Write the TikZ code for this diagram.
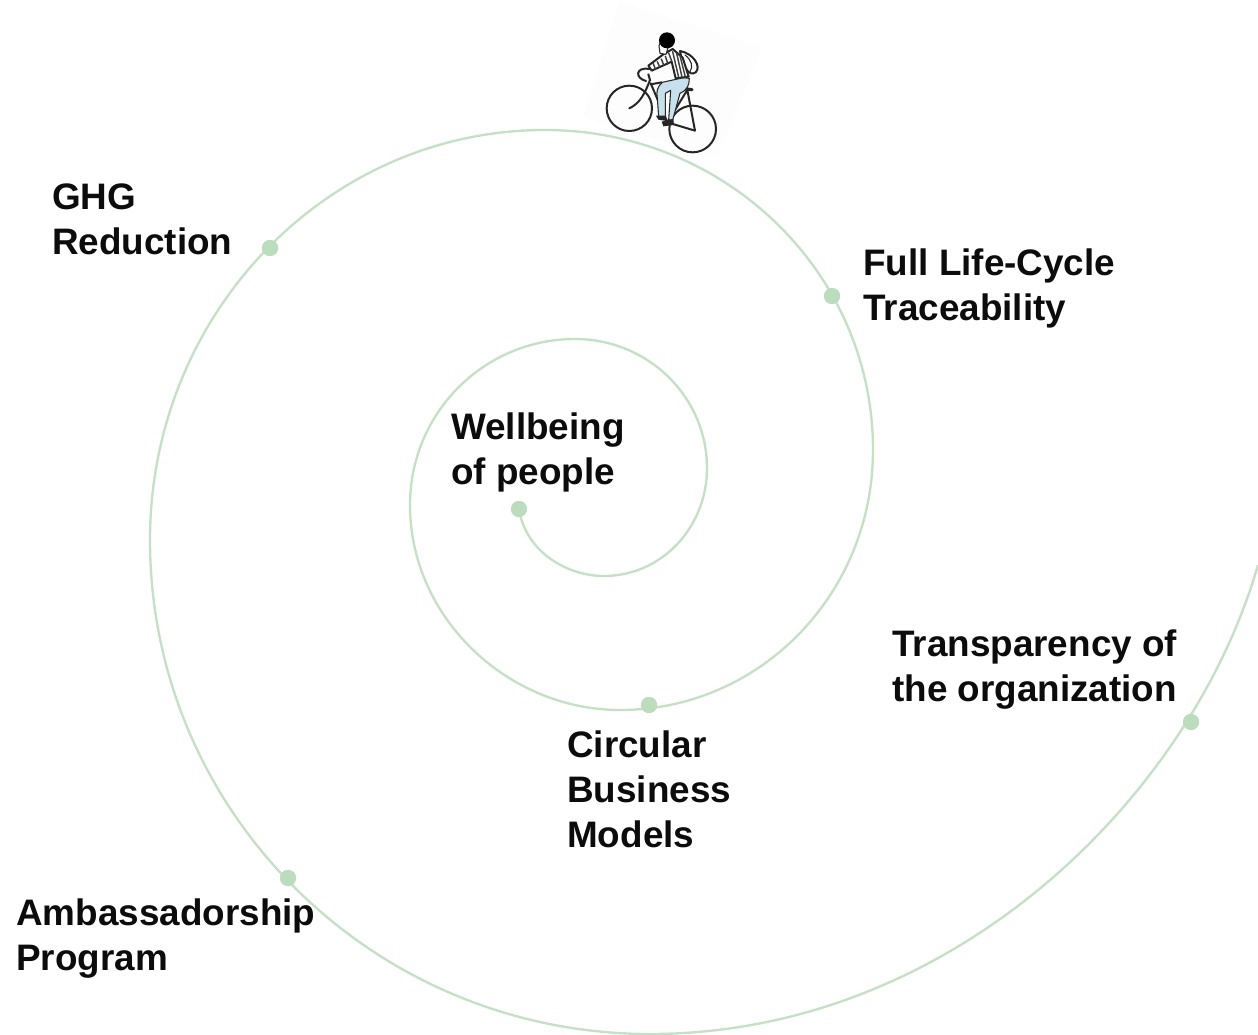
\documentclass[tikz,border=0pt]{standalone}
\usepackage{fontspec}
\setmainfont{Liberation Sans}
\definecolor{spiral}{HTML}{C6E0C6}
\definecolor{dotc}{HTML}{BBDCBD}
\definecolor{txt}{HTML}{0C0C0C}
\definecolor{jeans}{HTML}{C6E0EC}
\definecolor{ground}{HTML}{FDFDFD}
\tikzset{
  lbl/.style={anchor=north west,inner sep=0pt,align=left,text=txt,font=\fontsize{27.65}{33.75}\selectfont\bfseries},
  dotn/.style={circle,fill=dotc,inner sep=0pt,minimum size=12pt},
  spiralline/.style={draw=spiral,line width=1.75pt},
  ink/.style={draw=black!85,line width=1.5pt,line cap=round,line join=round},
  thin ink/.style={draw=black!85,line width=0.8pt,line cap=round,line join=round},
  stripe/.style={draw=black!75,line width=1.1pt,line cap=round}
}
\begin{document}
\begin{tikzpicture}[x=0.75pt,y=-0.75pt]
\useasboundingbox (0,0) rectangle (1258,1035);
\fill[white] (0,0) rectangle (1258,1035);
% image ground of the cyclist
\fill[ground] (620,2) -- (762,48) -- (717,157) -- (583,117) -- cycle;
% cyclist, drawn in crop coordinates (1/3 pixel)
\begin{scope}[shift={(630,25)},x=0.25pt,y=-0.25pt]
\draw[ink] (-2,250) circle (68);
\draw[ink] (188,312) circle (70);
% frame
\draw[ink] (-2,250) .. controls (30,235) and (45,205) .. (60,165) -- (55,148);
\draw[ink] (62,175) -- (112,292) -- (172,195) -- (195,317) -- (112,292);
\draw[ink] (62,178) -- (95,172);
\draw[ink,line width=2.4pt] (148,190) -- (186,194);
\draw[ink] (48,168) .. controls (15,160) and (15,125) .. (58,132);
% legs
\draw[thin ink,fill=jeans] (178,160) -- (160,158) -- (97,172) .. controls (82,185) and (78,200) .. (82,220) -- (86,275) -- (106,275) -- (106,205) -- (122,196) -- (116,285) -- (128,285) -- (150,205) .. controls (172,195) and (178,180) .. (178,160) -- cycle;
% feet
\fill[black!85] (78,272) -- (108,272) -- (110,288) -- (85,284) -- cycle;
\fill[black!85] (95,290) -- (130,282) -- (132,300) -- (100,304) -- cycle;
% backpack
\draw[ink,fill=white] (150,78) .. controls (190,85) and (215,125) .. (197,142) .. controls (178,155) and (160,130) .. (150,78) -- cycle;
\draw[thin ink] (165,90) .. controls (185,105) and (190,125) .. (180,140);
% torso and arm
\draw[ink,fill=white] (100,88) -- (128,72) -- (158,98) -- (176,155) -- (137,160) -- (125,110) -- (65,137) -- (55,122) -- cycle;
\draw[stripe] (70,116) -- (76,132) (82,110) -- (89,126) (94,102) -- (101,120) (106,94) -- (113,115) (116,84) -- (125,108)
  (128,80) -- (146,157) (140,85) -- (156,156) (150,92) -- (166,156);
% head
\draw[thin ink,fill=white] (92,50) -- (87,62) -- (90,85) -- (108,88) -- (115,65) -- cycle;
\fill[black] (111,46) circle (24);
\end{scope}
% dots
\node[dotn] (d1) at (519,509) {};
\node[dotn] (d2) at (649,705) {};
\node[dotn] (d3) at (832,296) {};
\node[dotn] (d4) at (270,248) {};
\node[dotn] (d5) at (288,878) {};
\node[dotn] (d6) at (1191,722) {};
% spiral
\draw[spiralline] (d1.center)
  .. controls (525,550) and (565,576) .. (604,576)
  .. controls (661,576) and (707,528) .. (707,468)
  .. controls (707,397) and (648,339) .. (575,339)
  .. controls (484,339) and (410,413) .. (410,505)
  .. controls (410,618) and (508,710) .. (620,710)
  .. controls (760,710) and (873,594) .. (873,450)
  .. controls (873,273) and (726,130) .. (545,130)
  .. controls (327,130) and (150,314) .. (150,540)
  .. controls (150,813) and (374,1034) .. (650,1034)
  .. controls (950,1034) and (1190,800) .. (1258,565);
\node[dotn] at (d1.center) {};
\node[dotn] at (d2.center) {};
\node[dotn] at (d3.center) {};
\node[dotn] at (d4.center) {};
\node[dotn] at (d5.center) {};
\node[dotn] at (d6.center) {};
% labels
\node[lbl] (l1) at (451,413) {Wellbeing\\of people};
\node[lbl] (l2) at (52,183) {GHG\\Reduction};
\node[lbl] (l3) at (863,249) {Full Life-Cycle\\Traceability};
\node[lbl] (l4) at (892,630) {Transparency of\\the organization};
\node[lbl] (l5) at (567,731) {Circular\\Business\\Models};
\node[lbl] (l6) at (16,899) {Ambassadorship\\Program};
\end{tikzpicture}
\end{document}
